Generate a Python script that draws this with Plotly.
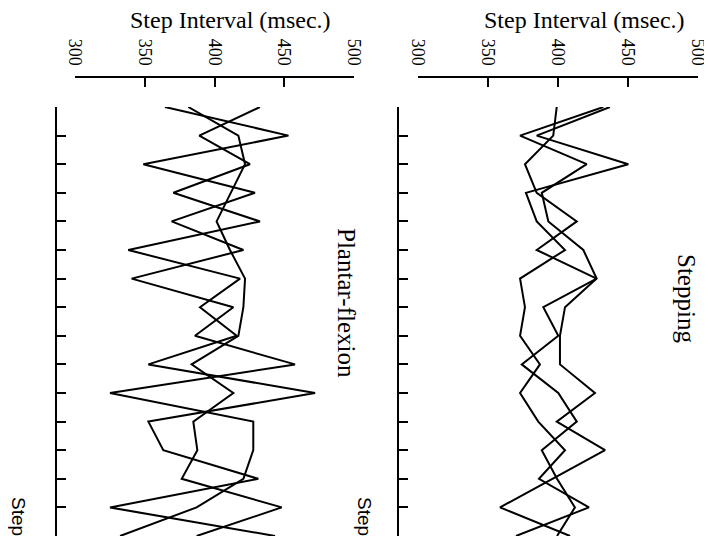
import plotly.graph_objects as go

# The page body has an 8px default margin: size the figure so that it fits the
# 712x547 window and map reference pixel positions accordingly.
PAGE_W, PAGE_H = 712, 547
OFF = 8
W, H = PAGE_W - OFF, PAGE_H - 2 * OFF

steps = list(range(1, 17))

# Plantar-flexion panel (three series), step interval in msec
plantar_1 = [364.5, 453.0, 349.0, 429.0, 369.3, 420.7, 340.6, 413.5, 386.0, 457.7, 325.1, 427.8, 427.8, 420.7, 387.2, 332.3]
plantar_2 = [381.2, 417.1, 421.9, 411.6, 401.5, 411.1, 421.9, 420.7, 417.1, 383.6, 413.5, 384.8, 387.7, 376.5, 448.2, 387.2]
plantar_3 = [432.6, 389.1, 425.4, 370.5, 432.6, 338.2, 418.3, 389.6, 415.9, 352.6, 472.1, 352.6, 363.3, 431.4, 325.1, 443.4]

# Stepping panel (three series)
stepping_1 = [399.1, 396.6, 376.4, 384.8, 413.4, 384.8, 427.6, 389.5, 400.2, 374.1, 400.2, 413.4, 388.4, 399.3, 412.1, 399.3]
stepping_2 = [432.4, 372.9, 420.5, 388.4, 393.1, 418.1, 427.6, 405.0, 401.4, 401.4, 426.4, 399.1, 433.6, 395.7, 358.6, 408.6]
stepping_3 = [437.1, 384.8, 450.2, 377.1, 384.8, 405.0, 372.9, 376.4, 372.9, 387.1, 372.9, 385.9, 405.0, 386.4, 422.1, 370.0]

value_ticks = [300, 350, 400, 450, 500]
value_title = "Step Interval (msec.)"
step_title = "Step"
panel_labels = ["Plantar-flexion", "Stepping"]

SERIF = "Liberation Serif"
SANS = "Liberation Sans"

fig = go.Figure()
for ys in (plantar_1, plantar_2, plantar_3):
    fig.add_trace(go.Scatter(x=ys, y=steps, mode="lines", xaxis="x", yaxis="y",
                             line=dict(color="black", width=2), showlegend=False,
                             hoverinfo="skip"))
for ys in (stepping_1, stepping_2, stepping_3):
    fig.add_trace(go.Scatter(x=ys, y=steps, mode="lines", xaxis="x2", yaxis="y2",
                             line=dict(color="black", width=2), showlegend=False,
                             hoverinfo="skip"))

def px_x(p):
    return (p - OFF) / W

def px_y(p):
    return 1 - (p - OFF) / H

xcommon = dict(range=[300, 500], anchor="free", position=px_y(77), side="top",
               tickvals=value_ticks, ticktext=[str(v) for v in value_ticks],
               ticks="inside", ticklen=9, tickwidth=2, tickcolor="black",
               showline=True, linewidth=2, linecolor="black", tickangle=90,
               ticklabelstandoff=4, ticklabeloverflow="allow",
               tickfont=dict(family=SERIF, size=18, color="black"),
               showgrid=False, zeroline=False, fixedrange=True)
ycommon = dict(range=[16, 1], domain=[px_y(536), px_y(107)], anchor="free",
               tickvals=steps, ticks="inside", ticklen=9, tickwidth=2,
               tickcolor="black", showticklabels=False, showline=True,
               linewidth=2, linecolor="black", showgrid=False, zeroline=False,
               fixedrange=True)

fig.update_layout(
    width=W, height=H,
    margin=dict(l=0, r=0, t=0, b=0, autoexpand=False),
    paper_bgcolor="white", plot_bgcolor="white",
    xaxis=dict(domain=[px_x(75), px_x(354)], **xcommon),
    xaxis2=dict(domain=[px_x(418), px_x(698)], **xcommon),
    yaxis=dict(position=px_x(56), **ycommon),
    yaxis2=dict(position=px_x(398), **ycommon),
)

ann = []
for cx in (230, 584):
    ann.append(dict(text=value_title, x=px_x(cx), y=px_y(20), xref="paper", yref="paper",
                    showarrow=False, xanchor="center", yanchor="middle",
                    font=dict(family=SERIF, size=24, color="black")))
for (cx, cy), lab in zip([(347, 303), (687, 298)], panel_labels):
    ann.append(dict(text=lab, x=px_x(cx), y=px_y(cy), xref="paper", yref="paper",
                    showarrow=False, xanchor="center", yanchor="middle", textangle=90,
                    font=dict(family=SERIF, size=25, color="black")))
for cx in (19, 365):
    ann.append(dict(text=step_title, x=px_x(cx), y=px_y(516), xref="paper", yref="paper",
                    showarrow=False, xanchor="center", yanchor="middle", textangle=90,
                    font=dict(family=SANS, size=19, color="black")))
fig.update_layout(annotations=ann)

fig.write_html("out.html")
